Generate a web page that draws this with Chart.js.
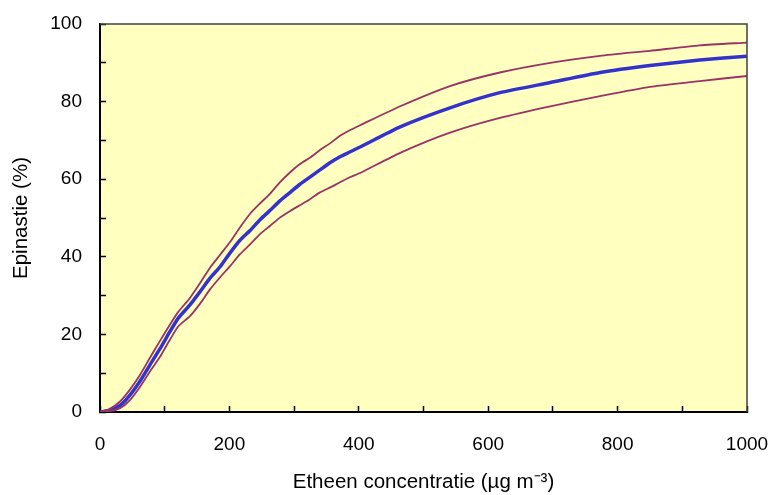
<!DOCTYPE html>
<html>
<head>
  <title>Epinastie</title>
  <script src="https://cdn.jsdelivr.net/npm/chart.js"></script>
  <style>
    body { margin: 0; background: #fff; }
    #wrap { width: 770px; height: 495px; }
  </style>
</head>
<body>
  <div id="wrap"><canvas id="epiChart"></canvas></div>

  <script>
    // etheen concentratie (ug m-3)
    const conc = [0, 15, 31, 46, 62, 77, 93, 108, 121, 139, 155, 170, 186, 201, 216, 232, 247, 263, 278, 294,
                  309, 325, 340, 356, 371, 386, 402, 464, 541, 618, 696, 773, 850, 927, 1000];
    // epinastie (%) - gemiddelde en grenzen
    const epiMid = [0, 0.4, 1.7, 4.3, 8.0, 12.1, 16.4, 20.7, 24.2, 27.6, 31.1, 34.5, 37.5, 41.0, 44.2, 46.8, 49.5, 52.0, 54.4, 56.6,
                    58.7, 60.6, 62.4, 64.3, 65.8, 67.0, 68.3, 73.5, 78.4, 82.3, 84.9, 87.5, 89.3, 90.7, 91.7];
    const epiUpper = [0, 0.8, 2.7, 5.7, 9.6, 13.9, 18.4, 22.5, 25.8, 29.4, 33.3, 37.2, 40.6, 43.8, 47.5, 51.1, 53.7, 56.3, 59.2, 61.8,
                      63.9, 65.6, 67.5, 69.3, 71.2, 72.6, 73.9, 78.8, 84.0, 87.5, 90.0, 91.8, 93.1, 94.5, 95.2];
    const epiLower = [0, 0.2, 1.0, 3.0, 6.5, 10.4, 14.3, 18.6, 22.1, 24.7, 28.0, 31.6, 34.8, 37.6, 40.6, 43.2, 45.8, 48.0, 50.1, 51.8,
                      53.3, 54.9, 56.6, 57.9, 59.2, 60.5, 61.6, 66.8, 72.0, 75.8, 78.8, 81.4, 83.8, 85.3, 86.6];
    const xTickLabels = [0, 200, 400, 600, 800, 1000];
    const yTickLabels = [0, 20, 40, 60, 80, 100];

    const FONT = { family: "'Liberation Sans', Arial, sans-serif", size: 19 };
    const TITLE_FONT = { family: "'Liberation Sans', Arial, sans-serif", size: 20.5 };

    function toPoints(ys) {
        return conc.map((x, i) => ({ x: x, y: ys[i] }));
    }

    // geen extra ruimte voor overhangende labels
    function noOverhang(s) {
        s.paddingLeft = 0;
        s.paddingRight = 0;
        s.paddingTop = 0;
        s.paddingBottom = 0;
    }

    // gele achtergrond + kader
    const plotArea = {
        id: 'plotArea',
        beforeDraw(chart) {
            const a = chart.chartArea;
            const ctx = chart.ctx;
            ctx.save();
            ctx.fillStyle = '#FFFFC0';
            ctx.fillRect(a.left, a.top, a.right - a.left, a.bottom - a.top);
            ctx.restore();
        },
        afterDraw(chart) {
            const a = chart.chartArea;
            const ctx = chart.ctx;
            ctx.save();
            ctx.strokeStyle = '#404040';
            ctx.lineWidth = 1.5;
            ctx.beginPath();
            ctx.moveTo(a.left, a.top);
            ctx.lineTo(a.right, a.top);
            ctx.lineTo(a.right, a.bottom);
            ctx.stroke();
            ctx.restore();
        }
    };

    const ctx = document.getElementById('epiChart').getContext('2d');
    const chart = new Chart(ctx, {
        type: 'line',
        data: {
            datasets: [
                { data: toPoints(epiUpper), borderColor: '#993366', borderWidth: 1.8 },
                { data: toPoints(epiLower), borderColor: '#993366', borderWidth: 1.8 },
                { data: toPoints(epiMid), borderColor: '#3333CC', borderWidth: 3.5 }
            ]
        },
        options: {
            responsive: true,
            maintainAspectRatio: false,
            animation: false,
            layout: { padding: { top: 24, right: 23, left: 0, bottom: 0 } },
            elements: { point: { radius: 0 }, line: { tension: 0.2 } },
            plugins: { legend: { display: false }, tooltip: { enabled: false } },
            scales: {
                x: {
                    type: 'linear',
                    min: 0,
                    max: 1000,
                    afterFit: (s) => { s.height = 83; noOverhang(s); },
                    ticks: {
                        stepSize: 100,
                        autoSkip: false,
                        maxRotation: 0,
                        padding: 27,
                        color: '#000',
                        font: FONT,
                        callback: (v) => xTickLabels.includes(v) ? String(v) : ''
                    },
                    grid: { drawOnChartArea: false, tickLength: -6, color: '#000', tickWidth: 1.5 },
                    border: { color: '#000', width: 2 },
                    title: {
                        display: true,
                        text: 'Etheen concentratie (µg m⁻³)',
                        color: '#000',
                        font: TITLE_FONT,
                        padding: { top: 0, bottom: 0 }
                    }
                },
                y: {
                    min: 0,
                    max: 100,
                    afterFit: (s) => { s.width = 100; noOverhang(s); },
                    ticks: {
                        stepSize: 10,
                        autoSkip: false,
                        padding: 24,
                        color: '#000',
                        font: FONT,
                        callback: (v) => yTickLabels.includes(v) ? String(v) : ''
                    },
                    grid: { drawOnChartArea: false, tickLength: -6, color: '#000', tickWidth: 1.5 },
                    border: { color: '#000', width: 2 },
                    title: {
                        display: true,
                        text: 'Epinastie (%)',
                        color: '#000',
                        font: TITLE_FONT,
                        padding: { top: 9, bottom: 0 }
                    }
                }
            }
        },
        plugins: [plotArea]
    });
  </script>
</body>
</html>
